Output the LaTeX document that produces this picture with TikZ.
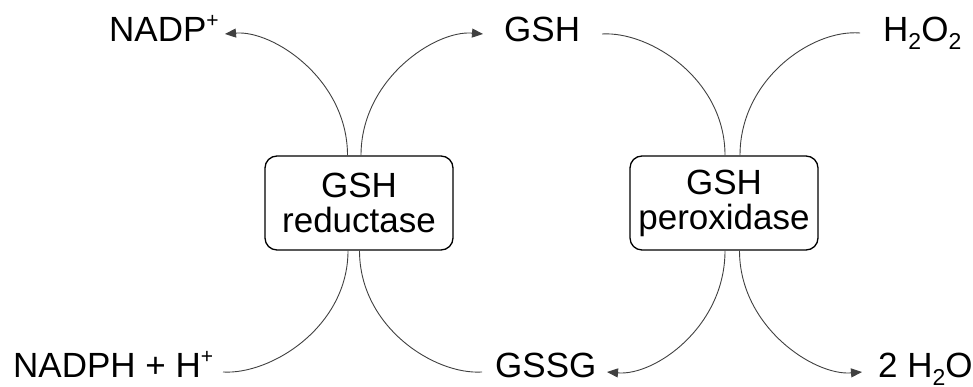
\documentclass[tikz,border=0pt]{standalone}
\usepackage{fontspec}
\setmainfont{Liberation Sans}
\usetikzlibrary{arrows.meta,calc}
\newcommand{\mysub}[1]{\raisebox{-0.22em}{\fontsize{23}{23}\selectfont #1}}
\newcommand{\mysup}[1]{\raisebox{0.42em}{\fontsize{21}{21}\selectfont #1}}
\begin{document}
\begin{tikzpicture}[x=1pt,y=1pt,
  enzyme/.style={draw=black,line width=1.3pt,rounded corners=12pt,minimum width=188pt,minimum height=94pt,inner sep=0pt,align=center,font=\fontsize{35}{35}\selectfont},
  label/.style={inner sep=0pt,font=\fontsize{35}{35}\selectfont},
  conn/.style={draw=black!75,line width=0.9pt},
  arr/.style={conn,-{Triangle[length=11pt,width=9pt]}}]
\useasboundingbox (0,0) rectangle (973,387);
% enzymes
\node[enzyme] (red) at (359,184) {GSH\\reductase};
\node[enzyme] (per) at (724,184) {GSH\\peroxidase};
% labels
\node[label,anchor=base west] (nadp) at (109,345) {NADP\mysup{+}};
\node[label,anchor=base west] (gsh) at (504,345) {GSH};
\node[label,anchor=base west] (hoo) at (883,345) {H\mysub{2}O\mysub{2}};
\node[label,anchor=base west] (nadph) at (13,9) {NADPH + H\mysup{+}};
\node[label,anchor=base west] (gssg) at (495,9) {GSSG};
\node[label,anchor=base west] (water) at (878,9) {2 H\mysub{2}O};
% connector ends
\coordinate (tNADP) at (225,353);
\coordinate (tGSHin) at (483,353);
\coordinate (tGSHout) at (602,353);
\coordinate (tHOO) at (860,354);
\coordinate (tNADPH) at (223,15);
\coordinate (tGSSGin) at (482,15);
\coordinate (tGSSGout) at (607,15);
\coordinate (tWATER) at (862,15);
% reductase
\draw[arr] ([xshift=-11.5pt]red.north) .. controls +(0,76) and +(48,4) .. (tNADP);
\draw[arr] ([xshift=2pt]red.north) .. controls +(0,76) and +(-48,4) .. (tGSHin);
\draw[conn] ([xshift=-11pt]red.south) .. controls +(0,-76) and +(48,-3) .. (tNADPH);
\draw[conn] ([xshift=0.5pt]red.south) .. controls +(0,-76) and +(-48,-3) .. (tGSSGin);
% peroxidase
\draw[conn] ([xshift=1pt]per.north) .. controls +(0,76) and +(48,3) .. (tGSHout);
\draw[conn] ([xshift=16pt]per.north) .. controls +(0,76) and +(-48,4) .. (tHOO);
\draw[arr] ([xshift=1pt]per.south) .. controls +(0,-76) and +(48,-4) .. (tGSSGout);
\draw[arr] ([xshift=15.5pt]per.south) .. controls +(0,-76) and +(-48,-4) .. (tWATER);
\end{tikzpicture}
\end{document}
